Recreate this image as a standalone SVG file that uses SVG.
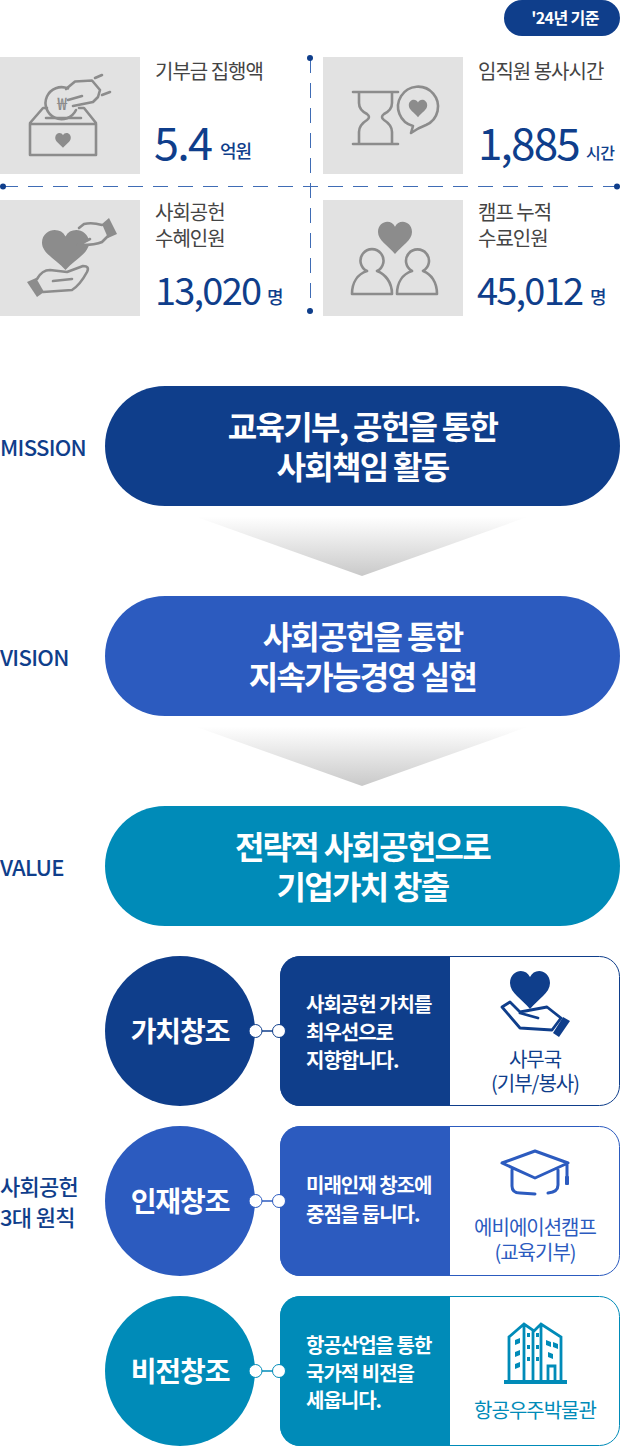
<svg xmlns="http://www.w3.org/2000/svg" width="620" height="1446" viewBox="0 0 620 1446">
<style>
text{font-family:"Noto Sans CJK KR","Noto Sans",sans-serif}
.tile{fill:#e2e2e2}
.ig{fill:none;stroke:#8c8c8c;stroke-width:2.6;stroke-linecap:round;stroke-linejoin:round}
.gf{fill:#8c8c8c}
.lab{font-size:20px;fill:#444;letter-spacing:-1px}
.num{fill:#0f3e8b;font-weight:400;letter-spacing:-1.800px}
.unit{fill:#0f3e8b;font-size:18px;font-weight:500;letter-spacing:-1px}
.side{fill:#0f3e8b;font-size:22px;font-weight:500;letter-spacing:-.7px}
.pt{fill:#fff;font-size:32px;font-weight:700;text-anchor:middle;letter-spacing:-1.700px}
.ct{fill:#fff;font-size:28px;font-weight:700;text-anchor:middle;letter-spacing:-1.100px}
.bt{fill:#fff;font-size:20px;font-weight:700;letter-spacing:-1px}
.rt{font-size:20px;text-anchor:middle;letter-spacing:-1px}
</style>
<defs>
<linearGradient id="fade" x1="0" y1="0" x2="0" y2="1"><stop offset="0" stop-color="#fff"/><stop offset=".15" stop-color="#fff"/><stop offset="1" stop-color="#c9c9c9"/></linearGradient>
<path id="heart" d="M0 10C-4 5-10 2-10-3C-10-7-7-9-4.600-9C-2.500-9-1-8 0-6C1-8 2.500-9 4.600-9C7-9 10-7 10-3C10 2 4 5 0 10Z"/>
</defs>

<g id="badge"><rect x="504" y="0" width="116" height="36" rx="18" fill="#0f3e8b"/><text x="565" y="24" text-anchor="middle" font-size="16" font-weight="700" fill="#fff" letter-spacing="-.6">'24년 기준</text></g>

<g id="connectors">
<g stroke="#3f6cb5" stroke-width="1" fill="none"><path d="M3 186.500H617" stroke-dasharray="15 10"/><path d="M310.500 58V311" stroke-dasharray="15 10"/></g>
<g fill="#0f3e8b"><circle cx="3" cy="186.500" r="3"/><circle cx="617" cy="186.500" r="3"/><circle cx="310" cy="58" r="3"/><circle cx="310" cy="311" r="3"/></g>
<polygon points="166,506 558,506 362,576" fill="url(#fade)"/>
<polygon points="166,716 558,716 362,786" fill="url(#fade)"/>
<path d="M255 1031H279" stroke="#0f3e8b" stroke-width="1.500"/>
<path d="M255 1201H279" stroke="#2c5bbf" stroke-width="1.500"/>
<path d="M255 1371H279" stroke="#008bb8" stroke-width="1.500"/>
</g>

<g id="stat-donation">
<rect class="tile" x="0" y="57" width="140" height="117"/>
<path class="ig" d="M30 124H96V155H30ZM30 123L43 108H47M96 123L84 108H79M46 118H81"/>
<path class="ig" d="M68 88.500A16 16 0 1 0 76 110M68 100L82 96M66 89L75 81.500L92 80.500L100 90L98 97L93 102L73 106M95 78L102 75M102 95L110 92"/>
<text x="62" y="110" text-anchor="middle" font-size="17" font-weight="500" fill="#8c8c8c">₩</text>
<use href="#heart" class="gf" transform="translate(63 140) scale(.78)"/>
<text class="lab" x="155" y="79">기부금 집행액</text>
<text class="num" x="154" y="160" font-size="45">5.4</text>
<text class="unit" x="220" y="158">억원</text>
</g>

<g id="stat-hours">
<rect class="tile" x="323" y="57" width="140" height="117"/>
<path class="ig" d="M353 92H398M353 144H398M359 92V103Q359 110 367 114Q371 117 367 120Q359 125 359 132V144M392 92V103Q392 110 384 114Q380 117 384 120Q392 125 392 132V144"/>
<path class="ig" d="M411 133L413 126A20 20 0 1 1 426 125Q418 128 411 133Z"/>
<use href="#heart" class="gf" transform="translate(418 108) scale(.92)"/>
<text class="lab" x="478" y="79">임직원 봉사시간</text>
<text class="num" x="478" y="160" font-size="44">1,885</text>
<text class="unit" x="586" y="159" style="font-size:16px;letter-spacing:-.5px">시간</text>
</g>

<g id="stat-beneficiaries">
<rect class="tile" x="0" y="200" width="140" height="116"/>
<use href="#heart" class="gf" transform="translate(65.500 249) scale(2.350 2.100)"/>
<path d="M84 224Q92 222 102 225L108 236L102 242Q96 245 80 245L92 239Q88 232 84 224Z" fill="#e2e2e2"/>
<path class="ig" d="M79 228L84 224Q92 222 102 225M108 236L102 242Q96 245 80 245M78 245L90 239"/>
<polygon class="gf" points="102,224 109,218 117,234 108,238"/>
<polygon class="gf" points="27,282 36,278 44,292 37,297"/>
<path class="ig" d="M37 279Q42 270 50 270L67 272L83 266Q90 266 87 272Q80 285 72 290L43 292M53 281L72 279"/>
<text class="lab" x="155" y="220">사회공헌</text><text class="lab" x="155" y="246">수혜인원</text>
<text class="num" x="155" y="305" font-size="38">13,020</text>
<text class="unit" x="267" y="304">명</text>
</g>

<g id="stat-graduates">
<rect class="tile" x="323" y="200" width="140" height="116"/>
<use href="#heart" class="gf" transform="translate(395 237) scale(1.700)"/>
<path d="M352 294C352 282 358 274 367 271A11.500 11.500 0 1 1 377 271C385 274 392 282 392 294Z" class="ig"/>
<path d="M397 294C397 282 403 274 412 271A11.500 11.500 0 1 1 423 271C431 274 437 282 437 294Z" class="ig"/>
<text class="lab" x="478" y="220">캠프 누적</text><text class="lab" x="478" y="246">수료인원</text>
<text class="num" x="477" y="305" font-size="38">45,012</text>
<text class="unit" x="590" y="304">명</text>
</g>

<g id="mission"><rect x="105" y="386" width="515" height="120" rx="60" fill="#0f3e8b"/><text class="side" x="0" y="456">MISSION</text><text class="pt" x="362.500" y="439">교육기부, 공헌을 통한</text><text class="pt" x="362.500" y="479">사회책임 활동</text></g>
<g id="vision"><rect x="105" y="596" width="515" height="120" rx="60" fill="#2c5bbf"/><text class="side" x="0" y="666">VISION</text><text class="pt" x="362.500" y="649">사회공헌을 통한</text><text class="pt" x="362.500" y="689">지속가능경영 실현</text></g>
<g id="value"><rect x="105" y="806" width="515" height="120" rx="60" fill="#008bb8"/><text class="side" x="0" y="876">VALUE</text><text class="pt" x="362.500" y="859">전략적 사회공헌으로</text><text class="pt" x="362.500" y="899">기업가치 창출</text></g>

<g id="principles-label"><text class="side" x="0" y="1195">사회공헌</text><text class="side" x="0" y="1226">3대 원칙</text></g>

<g id="principle-1">
<circle cx="180" cy="1031" r="75" fill="#0f3e8b"/><text class="ct" x="180" y="1042">가치창조</text>
<circle cx="255.500" cy="1031" r="6.500" fill="#fff" stroke="#0f3e8b"/>
<rect x="280.500" y="956.500" width="339" height="149" rx="20" fill="#fff" stroke="#0f3e8b"/>
<path d="M450 956H300A20 20 0 0 0 280 976V1086A20 20 0 0 0 300 1106H450Z" fill="#0f3e8b"/>
<circle cx="279" cy="1031" r="6.500" fill="#fff" stroke="#0f3e8b"/>
<text class="bt" x="306" y="1012">사회공헌 가치를</text><text class="bt" x="306" y="1040">최우선으로</text><text class="bt" x="306" y="1068">지향합니다.</text>
<use href="#heart" fill="#0f3e8b" transform="translate(530 989) scale(2)"/>
<path d="M502 1007L510 1002L520 1012L547 1007L561 1018L552 1030L520 1028ZM520 1013L538 1018" fill="none" stroke="#0f3e8b" stroke-width="2.800" stroke-linejoin="round" stroke-linecap="round"/>
<polygon points="563,1017 570,1021 559,1037 553,1033" fill="#0f3e8b"/>
<text class="rt" x="535" y="1067" fill="#0f3e8b">사무국</text><text class="rt" x="535" y="1091" fill="#0f3e8b">(기부/봉사)</text>
</g>

<g id="principle-2">
<circle cx="180" cy="1201" r="75" fill="#2c5bbf"/><text class="ct" x="180" y="1212">인재창조</text>
<circle cx="255.500" cy="1201" r="6.500" fill="#fff" stroke="#2c5bbf"/>
<rect x="280.500" y="1126.500" width="339" height="149" rx="20" fill="#fff" stroke="#2c5bbf"/>
<path d="M450 1126H300A20 20 0 0 0 280 1146V1256A20 20 0 0 0 300 1276H450Z" fill="#2c5bbf"/>
<circle cx="279" cy="1201" r="6.500" fill="#fff" stroke="#2c5bbf"/>
<text class="bt" x="306" y="1193">미래인재 창조에</text><text class="bt" x="306" y="1222">중점을 둡니다.</text>
<path d="M535 1151L568 1163L535 1178L502 1163ZM512 1170V1186Q512 1193 520 1193L535 1194M558 1170V1185Q558 1192 548 1193M567 1165V1177" fill="none" stroke="#2c5bbf" stroke-width="3" stroke-linejoin="round" stroke-linecap="round"/>
<rect x="565" y="1176" width="4" height="9" rx="1" fill="#2c5bbf"/>
<text class="rt" x="535" y="1235" fill="#2c5bbf">에비에이션캠프</text><text class="rt" x="535" y="1260" fill="#2c5bbf">(교육기부)</text>
</g>

<g id="principle-3">
<circle cx="180" cy="1371" r="75" fill="#008bb8"/><text class="ct" x="180" y="1382">비전창조</text>
<circle cx="255.500" cy="1371" r="6.500" fill="#fff" stroke="#008bb8"/>
<rect x="280.500" y="1296.500" width="339" height="149" rx="20" fill="#fff" stroke="#008bb8"/>
<path d="M450 1296H300A20 20 0 0 0 280 1316V1426A20 20 0 0 0 300 1446H450Z" fill="#008bb8"/>
<circle cx="279" cy="1371" r="6.500" fill="#fff" stroke="#008bb8"/>
<text class="bt" x="306" y="1353">항공산업을 통한</text><text class="bt" x="306" y="1381">국가적 비전을</text><text class="bt" x="306" y="1408">세웁니다.</text>
<path d="M509 1382V1337L524 1324L534 1331L541 1324L561 1337V1382M524 1325V1382M533 1331V1382M541 1325V1382M548 1382V1366H555V1382" fill="none" stroke="#008bb8" stroke-width="2.800" stroke-linejoin="miter"/>
<rect x="504" y="1380" width="63" height="4" fill="#008bb8"/>
<g fill="#008bb8"><path d="M515 1340l5-2v5l-5 2zM515 1352l5-2v5l-5 2zM515 1364l5-2v5l-5 2zM546 1340l5 2v5l-5-2zM553 1342l5 2v5l-5-2zM548 1352l5 2v5l-5-2z"/><rect x="527" y="1333" width="3" height="4"/><rect x="527" y="1345" width="3" height="4"/><rect x="527" y="1357" width="3" height="4"/><rect x="536" y="1333" width="3" height="4"/><rect x="536" y="1345" width="3" height="4"/><rect x="536" y="1357" width="3" height="4"/></g>
<text class="rt" x="535" y="1418" fill="#008bb8">항공우주박물관</text>
</g>
</svg>
